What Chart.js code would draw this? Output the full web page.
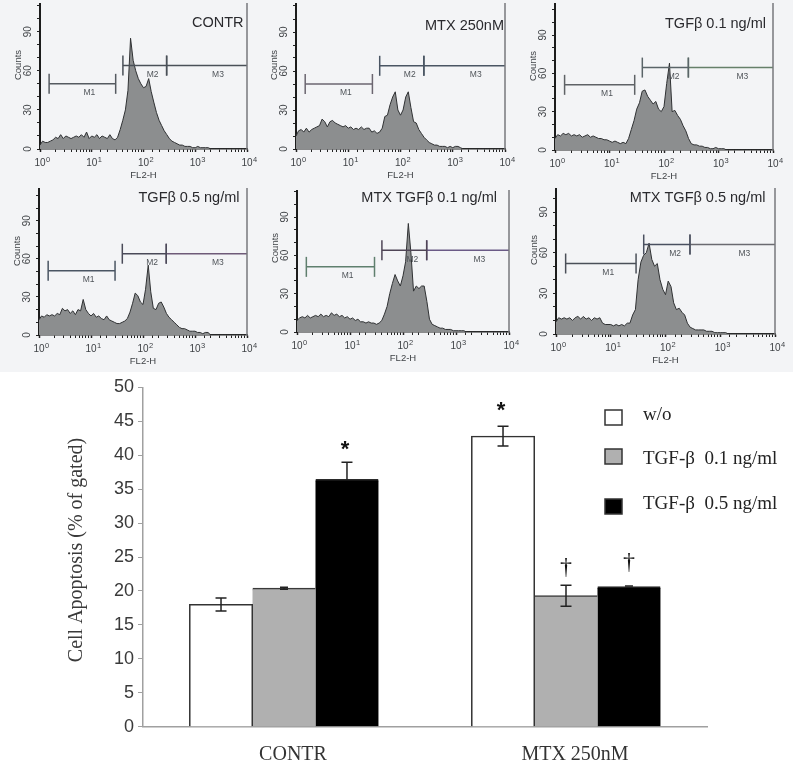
<!DOCTYPE html>
<html>
<head>
<meta charset="utf-8">
<title>Cell apoptosis</title>
<script src="https://cdn.jsdelivr.net/npm/chart.js@4"></script>
<style>
  body { margin: 0; background: #fff; }
  #page { position: relative; width: 793px; height: 764px; overflow: hidden; }
  #scan { position: absolute; left: 0; top: 0; width: 793px; height: 372px; background: #f3f4f6; }
  canvas { position: absolute; }
  canvas.hist { filter: blur(0.35px); }
  canvas.bars { filter: blur(0.3px); }
</style>
</head>
<body>
<div id="page"><div id="scan"></div></div>
<script>
// FL2-H channels, 20 bins per decade
const fl2Bins = [
  1, 1.12, 1.26, 1.41, 1.58, 1.78, 2, 2.24, 2.51, 2.82, 3.16, 3.55, 3.98, 4.47, 5.01, 5.62, 6.31, 7.08, 7.94, 8.91,
  10, 11.2, 12.6, 14.1, 15.8, 17.8, 20, 22.4, 25.1, 28.2, 31.6, 35.5, 39.8, 44.7, 50.1, 56.2, 63.1, 70.8, 79.4, 89.1,
  100, 112, 126, 141, 158, 178, 200, 224, 251, 282, 316, 355, 398, 447, 501, 562, 631, 708, 794, 891,
  1000, 1120, 1260, 1410, 1580, 1780, 2000, 2240, 2510, 2820, 3160, 3550, 3980, 4470, 5010, 5620, 6310, 7080, 7940, 8910, 10000
];

const countsContr = [
  3, 6, 5, 5, 6, 7, 9, 8, 11, 8, 10, 9, 8, 9, 10, 9, 11, 9, 13, 8,
  10, 9, 11, 8, 10, 9, 8, 11, 8, 7, 9, 15, 22, 30, 45, 85, 68, 60, 54, 50,
  47, 48, 54, 44, 36, 28, 22, 18, 14, 11, 8, 6, 5, 4, 3, 3, 2, 2, 2, 1,
  1, 2, 1, 1, 1, 1, 0, 0, 0, 0, 0, 0, 0, 0, 0, 0, 0, 0, 0, 0, 0
];
const countsMtx = [
  10, 14, 15, 13, 16, 13, 15, 16, 17, 18, 23, 21, 17, 21, 22, 20, 19, 18, 17, 18,
  16, 17, 15, 16, 15, 17, 15, 16, 16, 13, 14, 12, 13, 16, 25, 26, 34, 40, 44, 30,
  26, 30, 40, 44, 32, 21, 20, 15, 12, 9, 7, 5, 4, 3, 3, 2, 2, 2, 1, 2,
  1, 2, 2, 1, 0, 0, 0, 0, 0, 0, 0, 0, 0, 0, 0, 0, 0, 0, 0, 0, 0
];
const countsTgf01 = [
  9, 12, 11, 13, 12, 13, 11, 12, 11, 12, 10, 11, 12, 10, 11, 10, 9, 9, 8, 8,
  7, 6, 7, 6, 5, 6, 5, 9, 16, 23, 32, 37, 46, 47, 42, 39, 36, 38, 32, 30,
  34, 52, 68, 30, 31, 27, 24, 19, 15, 9, 5, 4, 4, 3, 3, 2, 2, 1, 1, 2,
  1, 1, 1, 0, 0, 0, 0, 0, 0, 0, 0, 0, 0, 0, 0, 0, 0, 0, 0, 0, 0
];
const countsTgf05 = [
  12, 15, 14, 16, 15, 16, 15, 17, 16, 21, 19, 20, 17, 19, 16, 20, 19, 28, 20, 17,
  15, 17, 14, 15, 13, 12, 15, 12, 11, 10, 9, 9, 10, 11, 13, 18, 25, 33, 31, 26,
  24, 36, 55, 34, 21, 20, 25, 26, 22, 17, 14, 12, 10, 8, 6, 5, 5, 4, 3, 3,
  3, 2, 2, 1, 2, 2, 0, 0, 0, 0, 0, 0, 0, 0, 0, 0, 0, 0, 0, 0, 0
];
const countsMtxTgf01 = [
  9, 11, 12, 11, 13, 11, 12, 13, 12, 14, 12, 13, 12, 15, 13, 14, 12, 13, 11, 12,
  10, 11, 9, 10, 8, 8, 7, 8, 7, 7, 6, 7, 9, 14, 20, 30, 38, 45, 40, 36,
  44, 55, 85, 62, 32, 36, 34, 36, 36, 24, 10, 6, 5, 4, 3, 3, 2, 2, 2, 1,
  1, 1, 1, 1, 0, 0, 0, 0, 0, 0, 0, 0, 0, 0, 0, 0, 0, 0, 0, 0, 0
];
const countsMtxTgf05 = [
  9, 12, 11, 12, 11, 12, 10, 12, 13, 11, 13, 11, 12, 10, 12, 11, 12, 8, 7, 7,
  7, 6, 7, 6, 7, 6, 8, 8, 14, 18, 40, 53, 58, 60, 67, 55, 50, 52, 40, 33,
  29, 39, 35, 23, 18, 19, 16, 14, 8, 5, 4, 3, 3, 3, 3, 2, 2, 2, 1, 1,
  1, 1, 1, 0, 0, 0, 0, 0, 0, 0, 0, 0, 0, 0, 0, 0, 0, 0, 0, 0, 0
];

const panelTitles = ["CONTR", "MTX 250nM", "TGF\u03B2 0.1 ng/ml", "TGF\u03B2 0.5 ng/ml", "MTX TGF\u03B2 0.1 ng/ml", "MTX TGF\u03B2 0.5 ng/ml"];
const panelCounts = [countsContr, countsMtx, countsTgf01, countsTgf05, countsMtxTgf01, countsMtxTgf05];

// marker gates: M1, M2, M3 in channels, heights in counts per panel
const gateNames = ["M1", "M2", "M3"];
const gateLow = [1.5, 40, 280];
const gateHigh = [29, 280, 10000];
const gateLabelAt = [9, 150, 2750];
const m1Levels = [50, 50, 51, 50.5, 51, 52];
const m23Levels = [64, 64, 64.5, 64, 64, 66];

const countTicks = [0, 30, 60, 90];
const decadeTicks = [1, 10, 100, 1000, 10000];
const decadeExponents = ["0", "1", "2", "3", "4"];

// bar chart
const groups = ["CONTR", "MTX 250nM"];
const seriesNames = ["w/o", "TGF-\u03B2  0.1 ng/ml", "TGF-\u03B2  0.5 ng/ml"];
const apoptosisNone = [18, 42.8];
const apoptosisTgf01 = [20.4, 19.3];
const apoptosisTgf05 = [36.4, 20.6];
const errorNone = [0.95, 1.45];
const errorTgf01 = [0.15, 1.55];
const errorTgf05 = [2.55, 0.12];
const errorBothWays = [[true, true], [true, true], [false, false]];
// [series, group, height of the mark on the axis]
const starMarks = [[2, 0, 41.2], [0, 1, 47]];
const daggerMarks = [[1, 1, 23.4], [2, 1, 24.2]];

// layout only: where each panel sits on the page
const panelBoxes = [
  { left: 39.5, right: 246, top: 3, zero: 149, y90: 31.7, titleRight: 243, titleY: 27 },
  { left: 296, right: 505, top: 3, zero: 149, y90: 32, titleRight: 504, titleY: 30 },
  { left: 555, right: 773, top: 3, zero: 150, y90: 35, titleRight: 766, titleY: 28 },
  { left: 38.5, right: 246.5, top: 188, zero: 335, y90: 220.7, titleRight: 239, titleY: 202 },
  { left: 297, right: 509, top: 190, zero: 331.7, y90: 217, titleRight: 497, titleY: 202 },
  { left: 555.5, right: 774, top: 188, zero: 334, y90: 212, titleRight: 765, titleY: 202 }
];
const gateColors = [
  ["#555a60", "#4a5058", "#4a5058"],
  ["#6b6670", "#4a5563", "#4a5563"],
  ["#5f6266", "#5a6468", "#66806a"],
  ["#4a5563", "#4a4a58", "#6e5a78"],
  ["#5f7f6e", "#4f4556", "#6a5a86"],
  ["#4a4f58", "#4a5060", "#6a6a70"]
];

const SANS = '"Liberation Sans", Arial, sans-serif';
const SERIF = '"Liberation Serif", "Times New Roman", serif';

const page = document.getElementById("page");

function addCanvas(left, top, width, height, cls) {
  const c = document.createElement("canvas");
  c.width = width;
  c.height = height;
  c.style.left = left + "px";
  c.style.top = top + "px";
  c.style.width = width + "px";
  c.style.height = height + "px";
  if (cls) c.className = cls;
  page.appendChild(c);
  return c;
}

function fixedSize(width, height) {
  return function (scale) {
    if (width !== null) scale.width = width;
    if (height !== null) scale.height = height;
    scale.paddingLeft = 0;
    scale.paddingRight = 0;
    scale.paddingTop = 0;
    scale.paddingBottom = 0;
  };
}

function drawHistogram(i) {
  const box = panelBoxes[i];
  const axisW = 39, axisH = 40, rightPad = 16;
  const intLeft = box.left - axisW;
  const canvas = addCanvas(intLeft, box.top, Math.ceil(box.right - box.left + axisW + rightPad), Math.ceil(box.zero - box.top + axisH), "hist");
  const yMax = (box.zero - box.top) / ((box.zero - box.y90) / 90);
  const levels = [m1Levels[i], m23Levels[i], m23Levels[i]];

  const gateSets = gateNames.map(function (name, g) {
    return {
      label: name,
      data: [{ x: gateLow[g], y: levels[g] }, { x: gateHigh[g], y: levels[g] }],
      borderColor: gateColors[i][g],
      borderWidth: 1.5,
      fill: false,
      pointStyle: "line",
      rotation: 90,
      pointRadius: g === 2 ? [10, 0] : 10,
      pointBorderColor: gateColors[i][g],
      pointBorderWidth: 1.5,
      order: 0
    };
  });

  const panelText = {
    id: "panelText",
    afterDraw(chart) {
      const ctx = chart.ctx, x = chart.scales.x, y = chart.scales.y, area = chart.chartArea;
      ctx.save();
      // right hand frame line
      ctx.strokeStyle = "#77797c";
      ctx.lineWidth = 1.5;
      ctx.beginPath();
      ctx.moveTo(area.right, area.top);
      ctx.lineTo(area.right, area.bottom);
      ctx.stroke();

      ctx.fillStyle = "#50555a";
      ctx.font = "8.5px " + SANS;
      ctx.textAlign = "center";
      ctx.textBaseline = "middle";
      gateNames.forEach(function (name, g) {
        ctx.fillText(name, x.getPixelForValue(gateLabelAt[g]), y.getPixelForValue(levels[g] - 7));
      });

      ctx.fillStyle = "#3f4246";
      ctx.font = "9.5px " + SANS;
      ctx.fillText("FL2-H", (area.left + area.right) / 2, area.bottom + 26);
      ctx.save();
      ctx.translate(area.left - 22, area.bottom - 84);
      ctx.rotate(-Math.PI / 2);
      ctx.fillText("Counts", 0, 0);
      ctx.restore();

      // exponents of the decade labels
      ctx.font = "7.5px " + SANS;
      decadeTicks.forEach(function (t, k) {
        ctx.fillText(decadeExponents[k], x.getPixelForValue(t) + 8, area.bottom + 11);
      });

      ctx.fillStyle = "#2a2a2e";
      ctx.font = "14.5px " + SANS;
      ctx.textAlign = "right";
      ctx.textBaseline = "alphabetic";
      ctx.fillText(panelTitles[i], box.titleRight - intLeft, box.titleY - box.top);
      ctx.restore();
    }
  };

  new Chart(canvas, {
    type: "line",
    data: {
      datasets: gateSets.concat([{
        label: panelTitles[i],
        data: fl2Bins.map(function (b, k) { return { x: b, y: panelCounts[i][k] }; }),
        borderColor: "#2f3133",
        borderWidth: 1,
        backgroundColor: "#8c8e8f",
        fill: "origin",
        tension: 0,
        pointRadius: 0,
        order: 1
      }])
    },
    options: {
      responsive: false,
      animation: false,
      layout: { autoPadding: false, padding: { left: 0, right: rightPad, top: 0, bottom: 0 } },
      plugins: { legend: { display: false }, title: { display: false }, tooltip: { enabled: false } },
      scales: {
        x: {
          type: "logarithmic",
          min: 1,
          max: 10000,
          afterFit: fixedSize(null, axisH),
          grid: {
            drawOnChartArea: false,
            tickLength: 3,
            tickColor: "#222",
            tickWidth: function (c) { return c.tick && decadeTicks.indexOf(c.tick.value) >= 0 ? 1.5 : 1; }
          },
          border: { color: "#222", width: 1.5 },
          ticks: {
            autoSkip: false,
            maxRotation: 0,
            padding: 5,
            color: "#3f4246",
            font: { family: SANS, size: 10 },
            callback: function (v) { return decadeTicks.indexOf(v) >= 0 ? "10" : ""; }
          }
        },
        y: {
          min: 0,
          max: yMax,
          afterFit: fixedSize(axisW, null),
          grid: { drawOnChartArea: false, tickLength: 3, tickColor: "#222" },
          border: { color: "#1c1c1c", width: 2 },
          ticks: {
            stepSize: 10,
            includeBounds: false,
            autoSkip: false,
            minRotation: 90,
            maxRotation: 90,
            crossAlign: "center",
            padding: 3,
            color: "#3f4246",
            font: { family: SANS, size: 10 },
            callback: function (v) { return countTicks.indexOf(v) >= 0 ? String(v) : ""; }
          }
        }
      }
    },
    plugins: [panelText]
  });
}

panelBoxes.forEach(function (b, i) { drawHistogram(i); });

// bar chart with error bars
const barTop = 372;
const barAllErrors = [errorNone, errorTgf01, errorTgf05];
const barFills = ["#ffffff", "#b0b0b0", "#000000"];
const barEdges = ["#333333", "#3a3a3a", "#2a2a2a"];
const barEdgeWidths = [
  { top: 1.5, left: 1.5, right: 1.5, bottom: 0 },
  { top: 1.5, left: 0, right: 0, bottom: 0 },
  { top: 1.5, left: 0, right: 0, bottom: 0 }
];

const errorBars = {
  id: "errorBars",
  afterDraw(chart) {
    const ctx = chart.ctx, y = chart.scales.y;
    ctx.save();
    ctx.strokeStyle = "#222";
    ctx.lineWidth = 1.5;
    chart.data.datasets.forEach(function (ds, s) {
      chart.getDatasetMeta(s).data.forEach(function (bar, g) {
        const top = ds.data[g] + barAllErrors[s][g];
        const bottom = errorBothWays[s][g] ? ds.data[g] - barAllErrors[s][g] : ds.data[g];
        const capHalf = barAllErrors[s][g] < 0.3 ? 4 : 5.5;
        ctx.beginPath();
        ctx.moveTo(bar.x, y.getPixelForValue(bottom));
        ctx.lineTo(bar.x, y.getPixelForValue(top));
        ctx.moveTo(bar.x - capHalf, y.getPixelForValue(top));
        ctx.lineTo(bar.x + capHalf, y.getPixelForValue(top));
        if (errorBothWays[s][g]) {
          ctx.moveTo(bar.x - capHalf, y.getPixelForValue(bottom));
          ctx.lineTo(bar.x + capHalf, y.getPixelForValue(bottom));
        }
        ctx.stroke();
      });
    });

    ctx.fillStyle = "#111";
    ctx.textAlign = "center";
    ctx.textBaseline = "middle";
    ctx.font = "bold 22px " + SANS;
    starMarks.forEach(function (m) {
      const bar = chart.getDatasetMeta(m[0]).data[m[1]];
      ctx.fillText("*", bar.x - 2, y.getPixelForValue(m[2]) + 3);
    });
    ctx.font = "24px " + SERIF;
    daggerMarks.forEach(function (m) {
      const bar = chart.getDatasetMeta(m[0]).data[m[1]];
      ctx.fillText("\u2020", bar.x, y.getPixelForValue(m[2]));
    });

    // legend, same column of boxes as the figure
    const rows = [410, 449, 499];
    const textRows = [415, 459, 504];
    ctx.textAlign = "left";
    seriesNames.forEach(function (name, s) {
      ctx.fillStyle = barFills[s];
      ctx.strokeStyle = "#333";
      ctx.lineWidth = 1.5;
      ctx.fillRect(605, rows[s] - barTop, 17, 15);
      ctx.strokeRect(605, rows[s] - barTop, 17, 15);
      ctx.fillStyle = "#222";
      ctx.font = "19px " + SERIF;
      ctx.fillText(name, 643, textRows[s] - barTop);
    });

    // axis title, sits a little above the middle of the axis
    ctx.fillStyle = "#3a3a3a";
    ctx.font = "20px " + SERIF;
    ctx.textAlign = "center";
    ctx.save();
    ctx.translate(77, 550 - barTop);
    ctx.rotate(-Math.PI / 2);
    ctx.fillText("Cell Apoptosis (% of gated)", 0, 0);
    ctx.restore();
    ctx.restore();
  }
};

new Chart(addCanvas(0, barTop, 793, 392, "bars"), {
  type: "bar",
  data: {
    labels: groups,
    datasets: [apoptosisNone, apoptosisTgf01, apoptosisTgf05].map(function (values, s) {
      return {
        label: seriesNames[s],
        data: values,
        backgroundColor: barFills[s],
        borderColor: barEdges[s],
        borderWidth: barEdgeWidths[s],
        borderSkipped: false,
        inflateAmount: 0.5,
        categoryPercentage: 0.67,
        barPercentage: 1
      };
    })
  },
  options: {
    responsive: false,
    animation: false,
    layout: { autoPadding: false, padding: { left: 0, right: 86, top: 15.3, bottom: 0 } },
    plugins: { legend: { display: false }, title: { display: false }, tooltip: { enabled: false } },
    scales: {
      x: {
        afterFit: fixedSize(null, 37.3),
        grid: { display: false },
        border: { color: "#a0a0a0", width: 1.5 },
        ticks: { padding: 8, labelOffset: 9, color: "#333", font: { family: SERIF, size: 20 } }
      },
      y: {
        min: 0,
        max: 50,
        afterFit: fixedSize(143, null),
        grid: { drawOnChartArea: false, tickLength: 5, tickColor: "#a0a0a0" },
        border: { color: "#a0a0a0", width: 1.5 },
        ticks: { stepSize: 5, padding: 4, color: "#3a3a3a", font: { family: SANS, size: 18 } }
      }
    }
  },
  plugins: [errorBars]
});
</script>
</body>
</html>
